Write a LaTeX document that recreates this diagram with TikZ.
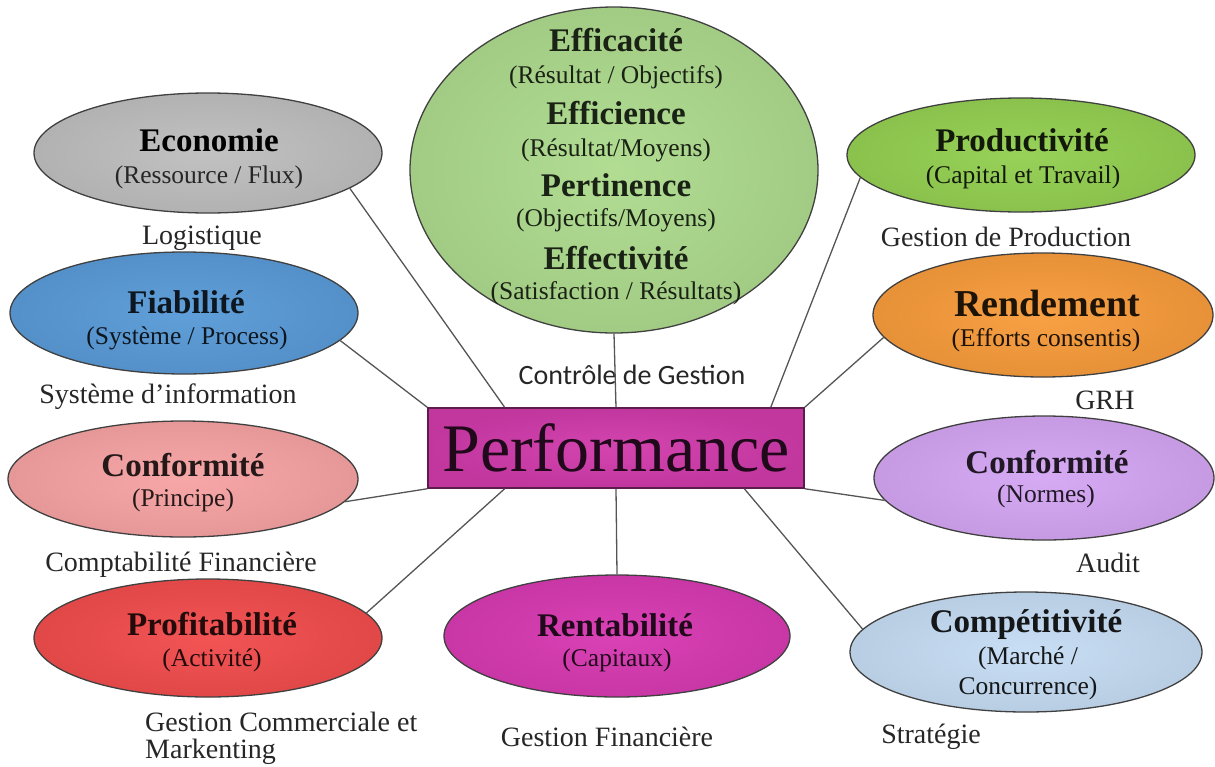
\documentclass[tikz,border=0pt]{standalone}
\usepackage{fontspec}
\setmainfont{Liberation Serif}
\newfontfamily\carlito{Carlito}
\usetikzlibrary{shapes.geometric,calc}
\definecolor{cGray}{HTML}{BFBFBF}
\definecolor{cBlue}{HTML}{5A9BD8}
\definecolor{cPink}{HTML}{F7A3A3}
\definecolor{cRed}{HTML}{F24D4D}
\definecolor{cMag}{HTML}{D83AB2}
\definecolor{cLBlue}{HTML}{C6DDF4}
\definecolor{cPurp}{HTML}{D5A6F4}
\definecolor{cOrange}{HTML}{F89C3C}
\definecolor{cGreen}{HTML}{94D052}
\definecolor{cCirc}{HTML}{AEDB8E}
\definecolor{cBox}{HTML}{D23CAC}
\definecolor{cLine}{HTML}{555555}
\begin{document}
\begin{tikzpicture}[x=1pt,y=-1pt,
  bub/.style={ellipse, draw=black!75, line width=1.3pt, inner sep=0pt,
              inner color=#1!96!white, outer color=#1!93!black},
  hb/.style={font=\fontsize{33}{36}\selectfont\bfseries, inner sep=0pt},
  hs/.style={font=\fontsize{25.5}{28}\selectfont, inner sep=0pt},
  lab/.style={font=\fontsize{28}{30}\selectfont, text=black!85, inner sep=0pt},
  con/.style={draw=cLine, line width=1.3pt}]
\useasboundingbox (0,0) rectangle (1215,766);

% ---- central circle
\node[bub=cCirc, minimum width=408pt, minimum height=326pt] (circ) at (614,170) {};
\node[hb, text=cCirc!15!black] (c1) at (616,40) {Efficacité};
\node[hs, text=cCirc!15!black] (c2) at (616,77) {(Résultat / Objectifs)};
\node[hb, text=cCirc!15!black] (c3) at (616,113) {Efficience};
\node[hs, text=cCirc!15!black] (c4) at (616,150) {(Résultat/Moyens)};
\node[hb, text=cCirc!15!black] (c5) at (616,185) {Pertinence};
\node[hs, text=cCirc!15!black] (c6) at (616,220) {(Objectifs/Moyens)};
\node[hb, text=cCirc!15!black] (c7) at (616,258) {Effectivité};
\node[hs, text=cCirc!15!black] (c8) at (616,293) {(Satisfaction / Résultats)};

% ---- performance box
\node[draw=cBox!45!black, line width=1.5pt, inner color=cBox!96!white, outer color=cBox!92!black,
      minimum width=376pt, minimum height=80pt, inner sep=0pt,
      font=\fontsize{68}{70}\selectfont, text=cBox!15!black] (perf) at (616,448) {Performance};

% ---- ellipses
\node[bub=cGray, minimum width=348pt, minimum height=120pt] (eco) at (208,153) {};
\node[hb, text=black] (eco1) at (209,140) {Economie};
\node[hs, text=black!85] (eco2) at (209,177) {(Ressource / Flux)};

\node[bub=cBlue, minimum width=348pt, minimum height=122pt] (fia) at (184,313) {};
\node[hb, text=cBlue!15!black] (fia1) at (186,302) {Fiabilité};
\node[hs, text=cBlue!15!black] (fia2) at (187,338) {(Système / Process)};

\node[bub=cPink, minimum width=350pt, minimum height=116pt] (conp) at (183,479) {};
\node[hb, text=cPink!15!black] (conp1) at (183,465) {Conformité};
\node[hs, text=cPink!15!black] (conp2) at (183,500) {(Principe)};

\node[bub=cRed, minimum width=348pt, minimum height=118pt] (prof) at (208,638) {};
\node[hb, text=cRed!15!black] (prof1) at (212,624) {Profitabilité};
\node[hs, text=cRed!15!black] (prof2) at (212,660) {(Activité)};

\node[bub=cMag, minimum width=346pt, minimum height=122pt] (rent) at (617,636) {};
\node[hb, text=cMag!15!black] (rent1) at (615,625) {Rentabilité};
\node[hs, text=cMag!15!black] (rent2) at (617,660) {(Capitaux)};

\node[bub=cLBlue, minimum width=352pt, minimum height=120pt] (comp) at (1026,652) {};
\node[hb, text=cLBlue!10!black] (comp1) at (1026,625) {Compétitivité};
\node[hs, text=cLBlue!10!black] (comp2) at (1028,658) {(Marché /};
\node[hs, text=cLBlue!10!black] (comp3) at (1028,688) {Concurrence)};

\node[bub=cPurp, minimum width=340pt, minimum height=124pt] (conn) at (1044,478) {};
\node[hb, text=cPurp!15!black] (conn1) at (1047,462) {Conformité};
\node[hs, text=cPurp!15!black] (conn2) at (1046,496) {(Normes)};

\node[bub=cOrange, minimum width=340pt, minimum height=124pt] (rend) at (1043,315) {};
\node[hb, font=\fontsize{38}{40}\selectfont\bfseries, text=cOrange!12!black] (rend1) at (1047,303) {Rendement};
\node[hs, text=cOrange!12!black] (rend2) at (1046,340) {(Efforts consentis)};

\node[bub=cGreen, minimum width=348pt, minimum height=114pt] (prod) at (1021,155) {};
\node[hb, text=cGreen!12!black] (prod1) at (1022,140) {Productivité};
\node[hs, text=cGreen!12!black] (prod2) at (1023,177) {(Capital et Travail)};

% ---- labels
\node[lab] (l1) at (202,238) {Logistique};
\node[lab] (l2) at (168,397) {Système d’information};
\node[lab] (l3) at (181,565) {Comptabilité Financière};
\node[lab, anchor=west] (l4) at (145,722) {Gestion Commerciale et};
\node[lab, anchor=west] (l5) at (145,752) {Markenting};
\node[lab] (l6) at (607,737) {Gestion Financière};
\node[lab] (l7) at (931,737) {Stratégie};
\node[lab] (l8) at (1108,563) {Audit};
\node[lab] (l9) at (1105,400) {GRH};
\node[lab] (l10) at (1006,237) {Gestion de Production};
\node[lab, font=\carlito\fontsize{28}{30}\selectfont] (l11) at (632,375) {Contrôle de Gestion};

% ---- connectors
\draw[con] ($(perf.north west)!0.205!(perf.north east)$) -- (eco.-14);
\draw[con] (perf.north west) -- (fia.-10);
\draw[con] (perf.south west) -- (conp.-8);
\draw[con] ($(perf.south west)!0.205!(perf.south east)$) -- (prof.9);
\draw[con] (perf.south) -- (rent.north);
\draw[con] ($(perf.south west)!0.84!(perf.south east)$) -- (comp.172);
\draw[con] (perf.south east) -- (conn.188);
\draw[con] (perf.north east) -- (rend.188);
\draw[con] ($(perf.north west)!0.91!(perf.north east)$) -- (prod.188);
\draw[con] (circ.south) -- (perf.north);
\end{tikzpicture}
\end{document}
